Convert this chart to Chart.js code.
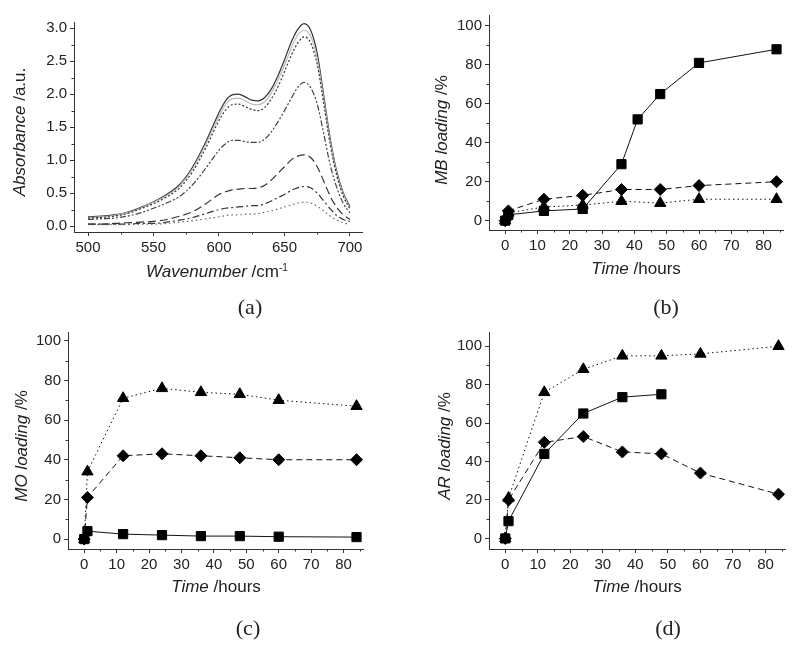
<!DOCTYPE html>
<html>
<head>
<meta charset="utf-8">
<script src="https://cdn.jsdelivr.net/npm/chart.js@4/dist/chart.umd.min.js"></script>
<style>
  body { margin: 0; background: #fff; width: 800px; height: 651px; position: relative; overflow: hidden;
         font-family: "Liberation Sans", Arial, sans-serif; color: #222; }
  .panel { position: absolute; }
  .lbl { position: absolute; font-size: 17px; white-space: nowrap; transform: translate(-50%, -50%); }
  .ylbl { transform: translate(-50%, -50%) rotate(-90deg); }
  .cap { position: absolute; font-family: "Liberation Serif", "Times New Roman", serif; font-size: 22px;
         transform: translate(-50%, -50%); }
  sup { font-size: 10px; }
</style>
</head>
<body>
<div class="panel" style="left:0;top:0;width:400px;height:320px"><canvas id="chartA"></canvas></div>
<div class="panel" style="left:400px;top:0;width:400px;height:320px"><canvas id="chartB"></canvas></div>
<div class="panel" style="left:0;top:320px;width:400px;height:331px"><canvas id="chartC"></canvas></div>
<div class="panel" style="left:400px;top:320px;width:400px;height:331px"><canvas id="chartD"></canvas></div>

<div class="lbl ylbl" style="left:20px;top:132px"><i>Absorbance</i> /a.u.</div>
<div class="lbl" style="left:217px;top:272px"><i>Wavenumber</i> /cm<sup>-1</sup></div>
<div class="lbl ylbl" style="left:442px;top:130px"><i>MB loading</i> /%</div>
<div class="lbl" style="left:636px;top:269px"><i>Time</i> /hours</div>
<div class="lbl ylbl" style="left:22px;top:446px"><i>MO loading</i> /%</div>
<div class="lbl" style="left:216px;top:587px"><i>Time</i> /hours</div>
<div class="lbl ylbl" style="left:445px;top:446px"><i>AR loading</i> /%</div>
<div class="lbl" style="left:637px;top:587px"><i>Time</i> /hours</div>

<div class="cap" style="left:250px;top:307px">(a)</div>
<div class="cap" style="left:666px;top:307px">(b)</div>
<div class="cap" style="left:248px;top:628px">(c)</div>
<div class="cap" style="left:668px;top:628px">(d)</div>

<script>
// ---- panel (a): absorbance spectra
const wavenumber = [500, 510, 520, 530, 540, 550, 560, 570, 580, 590, 600, 605, 610, 615, 620, 625,
                    630, 635, 640, 645, 650, 655, 660, 665, 670, 675, 680, 685, 690, 695, 700];
const absSolid   = [0.14, 0.15, 0.17, 0.21, 0.28, 0.37, 0.48, 0.63, 0.90, 1.28, 1.72, 1.90, 1.99, 2.00, 1.96, 1.91,
                    1.90, 1.95, 2.08, 2.28, 2.52, 2.78, 2.98, 3.07, 2.97, 2.62, 1.98, 1.32, 0.82, 0.50, 0.30];
const absGrey    = [0.13, 0.14, 0.16, 0.20, 0.27, 0.36, 0.46, 0.61, 0.87, 1.24, 1.66, 1.84, 1.93, 1.94, 1.90, 1.85,
                    1.84, 1.89, 2.02, 2.21, 2.44, 2.69, 2.89, 2.97, 2.88, 2.54, 1.92, 1.28, 0.79, 0.48, 0.28];
const absDot     = [0.12, 0.13, 0.15, 0.19, 0.26, 0.34, 0.44, 0.58, 0.83, 1.19, 1.60, 1.76, 1.84, 1.85, 1.81, 1.77,
                    1.75, 1.80, 1.93, 2.11, 2.34, 2.58, 2.77, 2.87, 2.78, 2.45, 1.85, 1.23, 0.76, 0.45, 0.26];
const absDashDot2 = [0.10, 0.11, 0.12, 0.15, 0.20, 0.27, 0.35, 0.45, 0.63, 0.88, 1.15, 1.25, 1.30, 1.30, 1.28, 1.27,
                    1.27, 1.32, 1.43, 1.58, 1.75, 1.93, 2.10, 2.18, 2.10, 1.85, 1.40, 0.92, 0.58, 0.34, 0.20];
const absDash    = [0.03, 0.03, 0.04, 0.05, 0.06, 0.07, 0.10, 0.15, 0.22, 0.34, 0.48, 0.52, 0.55, 0.56, 0.57, 0.57,
                    0.58, 0.62, 0.70, 0.80, 0.90, 1.00, 1.06, 1.08, 1.04, 0.90, 0.68, 0.45, 0.28, 0.17, 0.10];
const absDashDot = [0.03, 0.03, 0.03, 0.03, 0.04, 0.04, 0.06, 0.09, 0.13, 0.19, 0.25, 0.27, 0.28, 0.29, 0.30, 0.31,
                    0.31, 0.34, 0.38, 0.43, 0.48, 0.54, 0.58, 0.60, 0.58, 0.50, 0.38, 0.26, 0.16, 0.10, 0.07];
const absLowDot  = [0.02, 0.02, 0.02, 0.02, 0.03, 0.03, 0.04, 0.06, 0.08, 0.11, 0.14, 0.16, 0.17, 0.17, 0.18, 0.18,
                    0.19, 0.21, 0.23, 0.26, 0.29, 0.32, 0.35, 0.36, 0.35, 0.30, 0.23, 0.15, 0.09, 0.05, 0.03];

// ---- panels (b)-(d): loading vs time
const timeHours = [0, 1, 12, 24, 36, 48, 60, 84];
const timeMBsq = [0, 1, 12, 24, 36, 41, 48, 60, 84];
const timeARsq = [0, 1, 12, 24, 36, 48];

const mbSquare  = [0, 3, 5, 6, 29, 52, 65, 81, 88];
const mbDiamond = [0, 5, 11, 13, 16, 16, 18, 20];
const mbTriangle = [0, 4, 7, 8, 10, 9, 11, 11];

const moSquare  = [0, 4, 2.5, 2, 1.5, 1.5, 1.2, 1];
const moDiamond = [0, 21, 42, 43, 42, 41, 40, 40];
const moTriangle = [0, 34, 71, 76, 74, 73, 70, 67];

const arSquare  = [0, 9, 44, 65, 73.5, 75];
const arDiamond = [0, 20, 50, 53, 45, 44, 34, 23];
const arTriangle = [0, 21, 76, 88, 95, 95, 96, 100];

// tick values
const wnMajor = [500, 550, 600, 650, 700];
const wnMinor = [525, 575, 625, 675];
const absMajor = [0, 0.5, 1.0, 1.5, 2.0, 2.5, 3.0];
const absMinor = [0.25, 0.75, 1.25, 1.75, 2.25, 2.75];
const timeMajor = [0, 10, 20, 30, 40, 50, 60, 70, 80];
const timeMinor = [5, 15, 25, 35, 45, 55, 65, 75, 85];
const loadMajor = [0, 20, 40, 60, 80, 100];
const loadMinor = [10, 30, 50, 70, 90];

const INK = "#222";
const AXIS = "#333";

const pts = (xs, ys) => xs.map((x, i) => ({ x: x, y: ys[i] }));

// short ticks between the labelled ones
const minorTicks = {
  id: "minorTicks",
  afterDraw(chart, args, opts) {
    const ctx = chart.ctx;
    ctx.save();
    ctx.strokeStyle = AXIS;
    ctx.lineWidth = 1;
    const sx = chart.scales.x, sy = chart.scales.y;
    opts.x.forEach(v => {
      const p = Math.round(sx.getPixelForValue(v)) + 0.5;
      ctx.beginPath();
      ctx.moveTo(p, sx.top);
      ctx.lineTo(p, sx.top + 2.5);
      ctx.stroke();
    });
    opts.y.forEach(v => {
      const p = Math.round(sy.getPixelForValue(v)) + 0.5;
      ctx.beginPath();
      ctx.moveTo(sy.right, p);
      ctx.lineTo(sy.right - 2.5, p);
      ctx.stroke();
    });
    ctx.restore();
  }
};

function axis(min, max, major, fmt, fit) {
  return {
    type: "linear",
    min: min,
    max: max,
    afterBuildTicks: s => { s.ticks = major.map(v => ({ value: v })); },
    afterFit: fit,
    border: { display: true, color: AXIS, width: 1 },
    grid: { drawOnChartArea: false, drawTicks: true, tickLength: 4, color: AXIS },
    ticks: {
      autoSkip: false,
      maxRotation: 0,
      padding: 3,
      color: INK,
      font: { family: "'Liberation Sans', Arial, sans-serif", size: 15 },
      callback: fmt
    }
  };
}

function makeOptions(area, box, xs, ys) {
  return {
    responsive: true,
    maintainAspectRatio: false,
    animation: false,
    layout: {
      padding: {
        left: area.left - 60,
        top: area.top,
        right: box.w - area.right,
        bottom: box.h - area.bottom - 30
      }
    },
    plugins: {
      legend: { display: false },
      tooltip: { enabled: false },
      minorTicks: { x: xs.minor, y: ys.minor }
    },
    scales: {
      x: axis(xs.min, xs.max, xs.major, v => String(v), s => { s.height = 30; }),
      y: axis(ys.min, ys.max, ys.major, ys.fmt, s => { s.width = 60; })
    }
  };
}

function spectrum(data, color, dash) {
  return {
    data: pts(wavenumber, data),
    borderColor: color,
    borderWidth: 1.2,
    borderDash: dash,
    pointRadius: 0,
    fill: false,
    cubicInterpolationMode: "monotone"
  };
}

function loading(xs, ys, style, radius, dash) {
  return {
    data: pts(xs, ys),
    borderColor: "#111",
    backgroundColor: "#000",
    borderWidth: 1,
    borderDash: dash,
    pointStyle: style,
    pointRadius: radius,
    pointBorderWidth: 1,
    pointBorderColor: "#000",
    pointBackgroundColor: "#000",
    fill: false,
    tension: 0
  };
}

// panel (a)
new Chart(document.getElementById("chartA"), {
  type: "line",
  data: {
    datasets: [
      spectrum(absLowDot, "#666", [1.5, 3]),
      spectrum(absDashDot, "#333", [7, 3, 2, 3]),
      spectrum(absDash, "#333", [8, 4]),
      spectrum(absDashDot2, "#444", [6, 2, 2, 2, 2, 2]),
      spectrum(absDot, "#333", [2, 2]),
      spectrum(absGrey, "#bbb", []),
      spectrum(absSolid, "#333", [])
    ]
  },
  options: makeOptions(
    { left: 74, top: 22, right: 362, bottom: 232 }, { w: 400, h: 320 },
    { min: 489.3, max: 709.2, major: wnMajor, minor: wnMinor },
    { min: -0.09, max: 3.095, major: absMajor, minor: absMinor, fmt: v => v.toFixed(1) }
  ),
  plugins: [minorTicks]
});

const timeAxis = { min: -5, max: 86, major: timeMajor, minor: timeMinor };
const intFmt = v => String(v);

// panel (b)
new Chart(document.getElementById("chartB"), {
  type: "line",
  data: {
    datasets: [
      loading(timeHours, mbTriangle, "triangle", 6.5, [1.5, 3]),
      loading(timeHours, mbDiamond, "rectRot", 6, [6, 4]),
      loading(timeMBsq, mbSquare, "rect", 6.5, [])
    ]
  },
  options: makeOptions(
    { left: 89, top: 15, right: 383, bottom: 230 }, { w: 400, h: 320 },
    timeAxis,
    { min: -4.8, max: 105.6, major: loadMajor, minor: loadMinor, fmt: intFmt }
  ),
  plugins: [minorTicks]
});

// panel (c)
new Chart(document.getElementById("chartC"), {
  type: "line",
  data: {
    datasets: [
      loading(timeHours, moTriangle, "triangle", 6.5, [1.5, 3]),
      loading(timeHours, moDiamond, "rectRot", 6, [6, 4]),
      loading(timeHours, moSquare, "rect", 6.5, [])
    ]
  },
  options: makeOptions(
    { left: 68, top: 12, right: 363, bottom: 229 }, { w: 400, h: 331 },
    timeAxis,
    { min: -5.0, max: 104.4, major: loadMajor, minor: loadMinor, fmt: intFmt }
  ),
  plugins: [minorTicks]
});

// panel (d)
new Chart(document.getElementById("chartD"), {
  type: "line",
  data: {
    datasets: [
      loading(timeHours, arTriangle, "triangle", 6.5, [1.5, 3]),
      loading(timeHours, arDiamond, "rectRot", 6, [6, 4]),
      loading(timeARsq, arSquare, "rect", 6.5, [])
    ]
  },
  options: makeOptions(
    { left: 89, top: 10, right: 385, bottom: 229 }, { w: 400, h: 331 },
    timeAxis,
    { min: -5.5, max: 107.4, major: loadMajor, minor: loadMinor, fmt: intFmt }
  ),
  plugins: [minorTicks]
});
</script>
</body>
</html>
